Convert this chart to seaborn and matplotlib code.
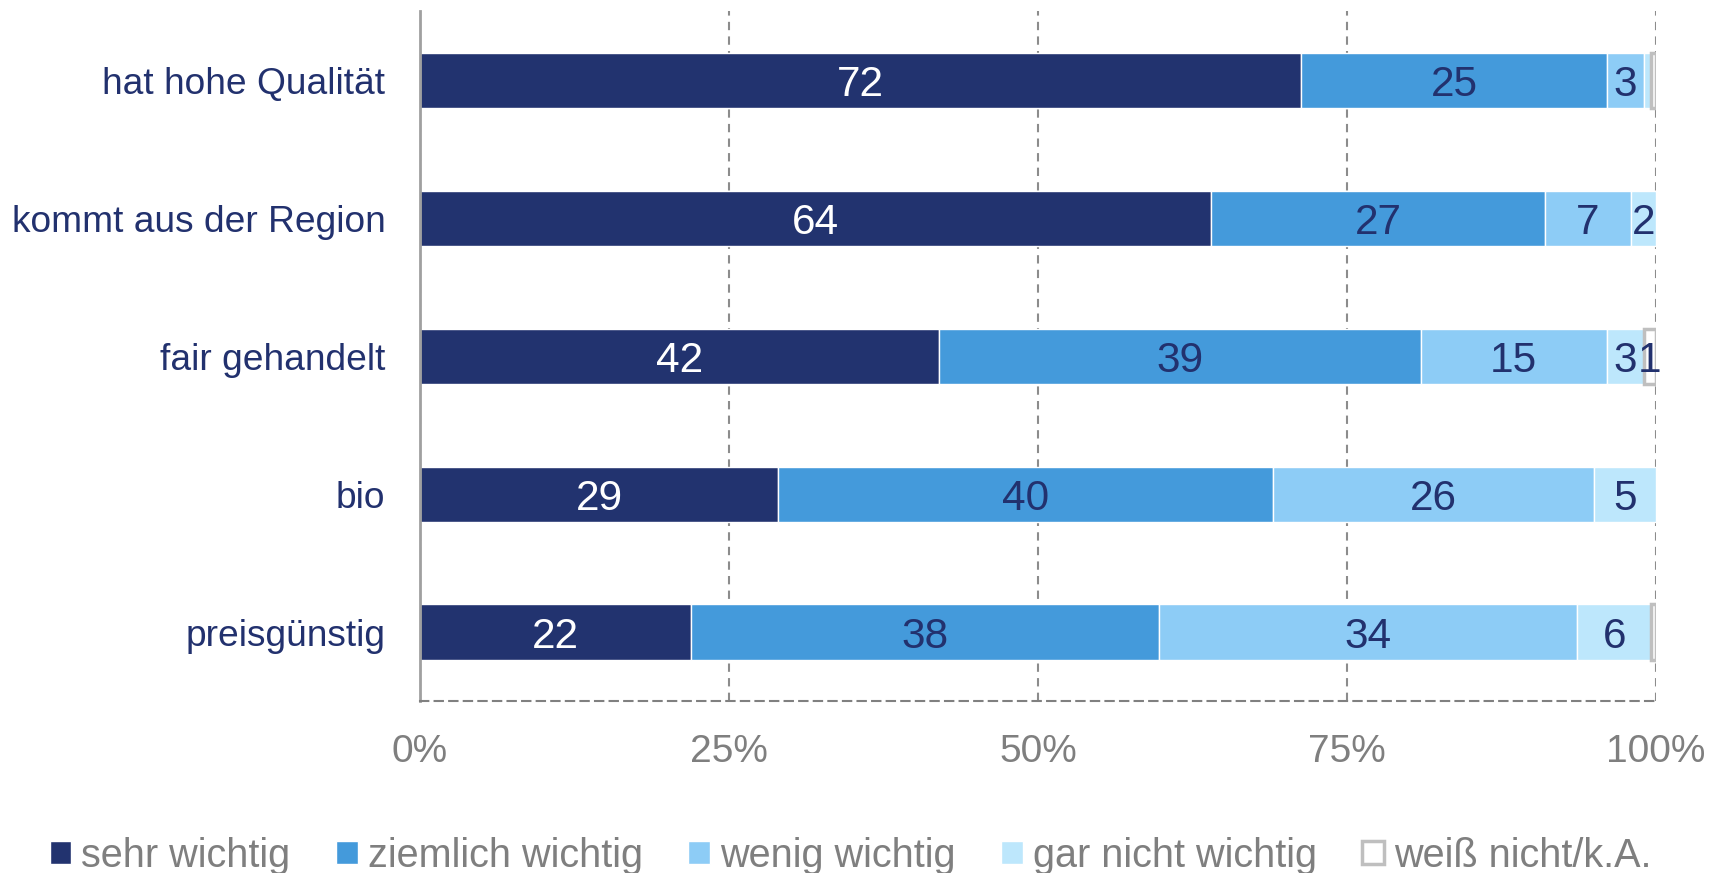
import matplotlib
matplotlib.use("Agg")
import matplotlib.pyplot as plt
import seaborn as sns
import numpy as np

categories = ["hat hohe Qualität", "kommt aus der Region", "fair gehandelt", "bio", "preisgünstig"]
series_names = ["sehr wichtig", "ziemlich wichtig", "wenig wichtig", "gar nicht wichtig", "weiß nicht/k.A."]
sehr_wichtig = [72, 64, 42, 29, 22]
ziemlich_wichtig = [25, 27, 39, 40, 38]
wenig_wichtig = [3, 7, 15, 26, 34]
gar_nicht_wichtig = [0.6, 2, 3, 5, 6]
weiss_nicht = [0.4, 0, 1, 0, 0.4]
tick_values = [0, 25, 50, 75, 100]
tick_labels = ["0%", "25%", "50%", "75%", "100%"]

colors = ["#22336F", "#449ADB", "#8DCCF6", "#BDE7FC", "#FFFFFF"]
label_colors = ["white", "#22316E", "#22316E", "#22316E", "#22316E"]
navy = "#22316E"
grey = "#7F7F7F"

sns.set_style("white")
plt.rcParams["font.family"] = ["Liberation Sans", "DejaVu Sans"]

series = [sehr_wichtig, ziemlich_wichtig, wenig_wichtig, gar_nicht_wichtig, weiss_nicht]
totals = np.sum(np.array(series, dtype=float), axis=0)

fig, ax = plt.subplots(figsize=(17.25, 8.73), dpi=100)
fig.subplots_adjust(left=0.2435, right=0.96, top=0.987, bottom=0.197)

left = np.zeros(len(categories))
for i, (name, values) in enumerate(zip(series_names, series)):
    values = np.array(values, dtype=float)
    share = values / totals * 100
    sns.barplot(x=share, y=categories, order=categories, orient="h", left=left,
                color=colors[i], saturation=1, width=0.4, errorbar=None, ax=ax,
                edgecolor="white", linewidth=1)
    container = ax.containers[-1]
    if name == "weiß nicht/k.A.":
        for patch, v in zip(container.patches, values):
            patch.set_edgecolor("#BFBFBF")
            patch.set_linewidth(2.5 if v > 0 else 0)
    labels = [f"{v:.0f}" if v >= 1 else "" for v in values]
    texts = ax.bar_label(container, labels=labels, label_type="center",
                         color=label_colors[i], fontsize=30.5)
    for t in texts:
        t.set_va("center_baseline")
    left = left + share

ax.set_xlim(0, 100)
ax.set_xticks(tick_values)
ax.set_xticklabels(tick_labels)
ax.set_xlabel("")
ax.set_ylabel("")
ax.set_axisbelow(True)
ax.grid(axis="x", color="#8C8C8C", linestyle=(0, (4, 3)), linewidth=1.5)

ax.tick_params(axis="x", length=0, pad=24, labelsize=28, labelcolor=grey)
ax.tick_params(axis="y", which="major", length=0, pad=25, labelsize=26.7, labelcolor=navy)
ax.set_yticks(np.arange(-0.5, len(categories), 1), minor=True)
ax.tick_params(axis="y", which="minor", length=9, width=2, color="#A0A0A0", direction="out")

sns.despine(ax=ax, top=True, right=True)
ax.spines["left"].set_color("#A0A0A0")
ax.spines["left"].set_linewidth(2)
ax.spines["bottom"].set_color("#808080")
ax.spines["bottom"].set_linewidth(1.5)
ax.spines["bottom"].set_linestyle((0, (4, 3)))

fig.legend(ax.containers, series_names, loc="center", bbox_to_anchor=(0.493, 0.02),
           ncol=5, frameon=False, fontsize=28.5, labelcolor=grey,
           handlelength=0.55, handleheight=0.55, handletextpad=0.25, columnspacing=1.15)

fig.savefig("out.png", dpi=100)
